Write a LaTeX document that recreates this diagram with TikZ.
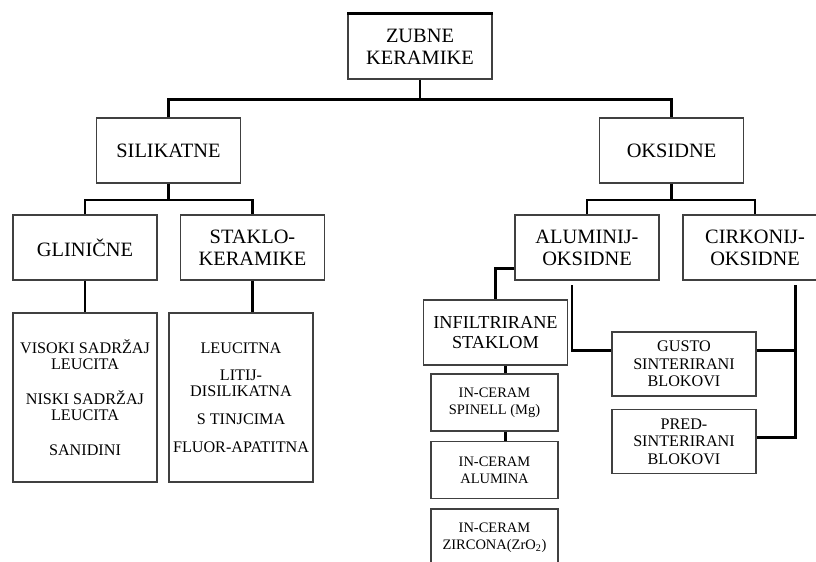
\documentclass[tikz,border=0pt]{standalone}
\usepackage{fontspec}
\setmainfont{Liberation Serif}

\tikzset{
  kutija/.style={draw=black!75, line width=0.8pt, inner sep=0pt, align=center,
    minimum width=3.6cm, minimum height=1.625cm,
    font=\fontsize{14.5}{15.5}\selectfont},
  lista/.style={kutija, minimum height=4.225cm, font=\fontsize{11.5}{11.3}\selectfont},
  mala/.style={kutija, minimum width=3.175cm, minimum height=1.425cm,
    font=\fontsize{10.3}{12}\selectfont},
  blok/.style={kutija, minimum height=1.6cm, font=\fontsize{11.5}{12.4}\selectfont},
  veza/.style={line width=2pt},
}

\begin{document}
\begin{tikzpicture}[x=0.025cm, y=-0.025cm]
  \useasboundingbox (0,0) rectangle (816,561);

  % razine
  \node[kutija] (zubne) at (420,46.5) {ZUBNE\\KERAMIKE};
  \node[kutija] (silikatne) at (168.5,150.5) {SILIKATNE};
  \node[kutija] (oksidne) at (671.5,150.5) {OKSIDNE};

  \node[kutija] (glinicne) at (85,247.5) {GLINIČNE};
  \node[kutija] (staklo) at (252.5,247.5) {STAKLO-\\KERAMIKE};
  \node[kutija] (aluminij) at (587,247.5) {ALUMINIJ-\\OKSIDNE};
  \node[kutija] (cirkonij) at (755,247.5) {CIRKONIJ-\\OKSIDNE};

  \node[lista] (lglinicne) at (85,397.5)
    {VISOKI SADRŽAJ\\LEUCITA\\[13.5pt]NISKI SADRŽAJ\\LEUCITA\\[13.5pt]SANIDINI};
  \node[lista] (lstaklo) at (241,397.5)
    {LEUCITNA\\[8.5pt]LITIJ-\\DISILIKATNA\\[8.5pt]S TINJCIMA\\[8.5pt]FLUOR-APATITNA};

  \node[kutija, font=\fontsize{13}{14}\selectfont] (infil) at (495.5,332.5) {INFILTRIRANE\\STAKLOM};
  \node[mala] (spinell) at (494.5,402.5) {IN-CERAM\\SPINELL (Mg)};
  \node[mala] (alumina) at (494.5,470) {IN-CERAM\\ALUMINA};
  \node[mala] (zircona) at (494.5,537.5) {IN-CERAM\\ZIRCONA(ZrO\textsubscript{2})};

  \node[blok] (gusto) at (684,364) {GUSTO\\SINTERIRANI\\BLOKOVI};
  \node[blok] (pred) at (684,441.5) {PRED-\\SINTERIRANI\\BLOKOVI};

  \draw[line width=2pt] (zubne.north west) -- (zubne.north east);

  % veze
  \coordinate (t1) at (420,99.5);
  \coordinate (t2) at (168.5,200);
  \coordinate (t3) at (671.5,200);
  \coordinate (a1) at (572,285);
  \coordinate (c1) at (795.5,285);
  \coordinate (gw) at ([yshift=-0.475cm]gusto.north west);
  \coordinate (ge) at ([yshift=-0.475cm]gusto.north east);
  \coordinate (pe) at ([yshift=0.11cm]pred.east);

  \draw[veza] (zubne.south) -- (t1);
  \draw[veza] (silikatne.north) |- (t1) -| (oksidne.north);
  \draw[veza] (silikatne.south) -- (t2);
  \draw[veza] (glinicne.north) |- (t2) -| (staklo.north);
  \draw[veza] (oksidne.south) -- (t3);
  \draw[veza] (aluminij.north) |- (t3) -| (cirkonij.north);

  \draw[veza] (glinicne.south) -- (lglinicne.north);
  \draw[veza] (staklo.south) -- (staklo.south |- lstaklo.north);

  \draw[veza] ([yshift=0.3cm]aluminij.south west) -| (infil.north);
  \draw[veza] ([xshift=0.25cm]infil.south) -- ([xshift=0.25cm]infil.south |- spinell.north);
  \draw[veza] ([xshift=0.25cm]infil.south |- spinell.south) -- ([xshift=0.25cm]infil.south |- alumina.north);

  \draw[veza] (a1) |- (gw);
  \draw[veza] (ge) -- (c1 |- ge);
  \draw[veza] (c1) |- (pe);
\end{tikzpicture}
\end{document}
